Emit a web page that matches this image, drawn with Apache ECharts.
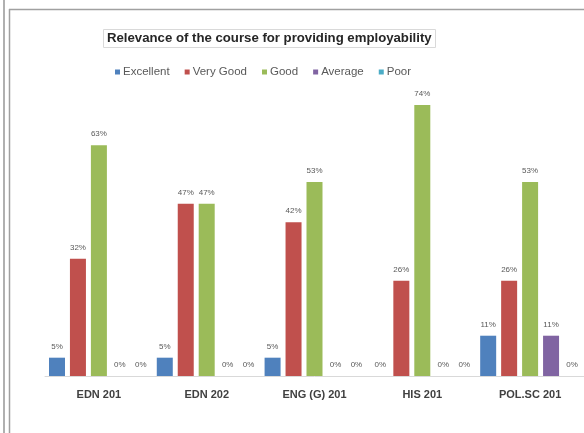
<!DOCTYPE html>
<html>
<head>
<meta charset="utf-8">
<script src="https://cdn.jsdelivr.net/npm/echarts@6/dist/echarts.min.js"></script>
<style>html,body{margin:0;padding:0;background:#fff;}#chart{width:584px;height:433px;}</style>
</head>
<body>
<div id="chart"></div>
<script>
const categories = ['EDN 201', 'EDN 202', 'ENG (G) 201', 'HIS 201', 'POL.SC 201'];
const seriesNames = ['Excellent', 'Very Good', 'Good', 'Average', 'Poor'];
const excellent = [5, 5, 5, 0, 11];
const veryGood = [32, 47, 42, 26, 26];
const good = [63, 47, 53, 74, 53];
const average = [0, 0, 0, 0, 11];
const poor = [0, 0, 0, 0, 0];
const colors = ['#4F81BD', '#C0504D', '#9BBB59', '#8064A2', '#4BACC6'];

const FONT = '"Liberation Sans", Arial, sans-serif';
const values = [excellent, veryGood, good, average, poor];

const chart = echarts.init(document.getElementById('chart'));
chart.setOption({
  animation: false,
  color: colors,
  title: {
    text: 'Relevance of the course for providing employability',
    left: 103, top: 29,
    padding: [2, 4],
    borderColor: '#d9d9d9', borderWidth: 1,
    textStyle: { fontFamily: FONT, fontSize: 13.2, lineHeight: 15, fontWeight: 'bold', color: '#262626' }
  },
  legend: {
    data: seriesNames,
    left: 110, top: 61,
    icon: 'rect', itemWidth: 5, itemHeight: 5, itemGap: 15,
    textStyle: { fontFamily: FONT, fontSize: 11.5, color: '#595959', padding: [0, 0, 0, -2] }
  },
  grid: { left: 45, width: 546, top: 83, bottom: 57, containLabel: false },
  xAxis: {
    type: 'category', data: categories,
    axisLine: { lineStyle: { color: '#d9d9d9' } },
    axisTick: { show: false },
    axisLabel: { fontFamily: FONT, fontSize: 11, fontWeight: 'bold', color: '#404040', margin: 13 }
  },
  yAxis: { type: 'value', min: 0, max: 80, show: false },
  graphic: [
    { type: 'line', shape: { x1: 4, y1: 0, x2: 4, y2: 433 }, style: { stroke: '#b0b0b0', lineWidth: 2 } },
    { type: 'line', shape: { x1: 9.5, y1: 9, x2: 9.5, y2: 433 }, style: { stroke: '#a0a0a0', lineWidth: 1.5 } },
    { type: 'line', shape: { x1: 9, y1: 9.5, x2: 584, y2: 9.5 }, style: { stroke: '#a0a0a0', lineWidth: 1.5 } }
  ],
  series: seriesNames.map((name, i) => ({
    name, type: 'bar', data: values[i],
    barWidth: 16, barGap: '31%',
    label: { show: true, position: 'top', distance: 7, formatter: '{c}%', fontFamily: FONT, fontSize: 8, color: '#595959' }
  }))
});
</script>
</body>
</html>
